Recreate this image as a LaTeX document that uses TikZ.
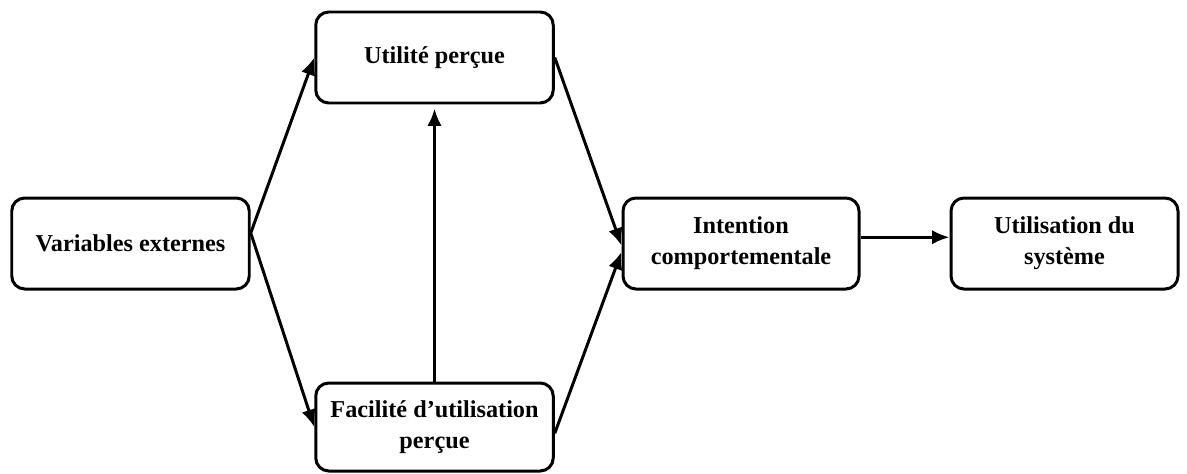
\documentclass[tikz,border=0pt]{standalone}
\usepackage{fontspec}
\setmainfont{Liberation Serif}
\usetikzlibrary{positioning,arrows.meta}
\begin{document}
\begin{tikzpicture}[>={Latex[length=3.5mm,width=2.9mm]},line width=1.7pt,
    every node/.style={draw,rounded corners=0.26cm,align=center,minimum width=4.75cm,minimum height=1.82cm,
      font=\fontsize{13.8}{17.6}\selectfont\bfseries,on grid}]
    \useasboundingbox (0,0) rectangle (23.74,-9.46);
    \node (var) at (2.61,-4.87) {Variables externes};
    \node [above right=3.72cm and 6.08cm of var] (util) {Utilité perçue};
    \node [below right=3.67cm and 6.08cm of var,minimum height=1.76cm] (fac) {Facilité d’utilisation\\perçue};
    \node [right=12.21cm of var,minimum width=4.72cm] (int) {Intention\\comportementale};
    \node [right=6.47cm of int,minimum width=4.54cm] (sys) {Utilisation du\\système};
    \draw [->] (var.5) -- (util.west);
    \draw [->] (var.5) -- (fac.west);
    \draw [->] (util.east) -- (int.181);
    \draw [->] (fac.-3) -- (int.184);
    \draw [->,shorten >=0.08cm] (fac.north) -- (util.south);
    \draw [->] (int.3) -- (int.3 -| sys.west);
\end{tikzpicture}
\end{document}
